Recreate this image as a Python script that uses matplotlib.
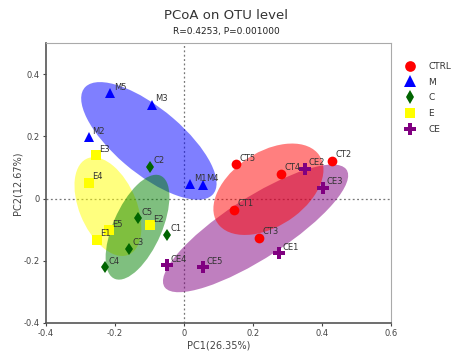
import numpy as np
import matplotlib
matplotlib.use("Agg")
import matplotlib.pyplot as plt
from matplotlib.patches import Ellipse

# Coordenadas PCoA
grupos = ["CTRL", "M", "C", "E", "CE"]
ctrl_id = ["CT1", "CT2", "CT3", "CT4", "CT5"]
ctrl_x = [0.146, 0.427, 0.218, 0.281, 0.150]
ctrl_y = [-0.036, 0.121, -0.126, 0.080, 0.111]
m_id = ["M1", "M2", "M3", "M4", "M5"]
m_x = [0.019, -0.275, -0.092, 0.055, -0.213]
m_y = [0.046, 0.198, 0.301, 0.044, 0.338]
c_id = ["C1", "C2", "C3", "C4", "C5"]
c_x = [-0.050, -0.097, -0.160, -0.229, -0.134]
c_y = [-0.116, 0.102, -0.162, -0.221, -0.063]
e_id = ["E1", "E2", "E3", "E4", "E5"]
e_x = [-0.252, -0.099, -0.255, -0.275, -0.217]
e_y = [-0.133, -0.085, 0.139, 0.051, -0.101]
ce_id = ["CE1", "CE2", "CE3", "CE4", "CE5"]
ce_x = [0.276, 0.351, 0.403, -0.050, 0.056]
ce_y = [-0.175, 0.096, 0.035, -0.214, -0.221]

datos = [(ctrl_id, ctrl_x, ctrl_y), (m_id, m_x, m_y), (c_id, c_x, c_y),
         (e_id, e_x, e_y), (ce_id, ce_x, ce_y)]
marcadores = ["o", "^", "d", "s", "P"]
col_punto = ["#ff0000", "#0000ff", "#006400", "#ffff00", "#800080"]
col_elipse = ["#ff0000", "#0000ff", "#008000", "#ffff00", "#800080"]
orden_elipse = [1, 3, 2, 4, 0]
N_STD = 1.37


def elipse(x, y, color):
    x = np.asarray(x)
    y = np.asarray(y)
    cov = np.cov(x, y)
    vals, vecs = np.linalg.eigh(cov)
    idx = vals.argsort()[::-1]
    vals, vecs = vals[idx], vecs[:, idx]
    ang = np.degrees(np.arctan2(vecs[1, 0], vecs[0, 0]))
    w, h = 2 * N_STD * np.sqrt(vals)
    return Ellipse((x.mean(), y.mean()), w, h, angle=ang, facecolor=color,
                   edgecolor="none", alpha=0.5, zorder=2)


fig = plt.figure(figsize=(4.52, 3.53), dpi=100)
ax = fig.add_axes([0.1007, 0.085, 0.7653, 0.793])

for i in orden_elipse:
    ids, xs, ys = datos[i]
    ax.add_patch(elipse(xs, ys, col_elipse[i]))

ax.axhline(0, color="#777777", ls=(0, (1.5, 2)), lw=0.9, zorder=1)
ax.axvline(0, color="#777777", ls=(0, (1.5, 2)), lw=0.9, zorder=1)

tam = {"o": 7, "^": 7.5, "d": 6.5, "s": 6.5, "P": 8}
for i, (ids, xs, ys) in enumerate(datos):
    m = marcadores[i]
    ax.plot(xs, ys, ls="", marker=m, ms=tam[m], color=col_punto[i],
            markeredgewidth=0, label=grupos[i], zorder=4)
    for t, xx, yy in zip(ids, xs, ys):
        ax.annotate(t, (xx, yy), xytext=(2.5, 2.5), textcoords="offset points",
                    fontsize=6, color="#333333", zorder=5)

ax.set_xlim(-0.4, 0.6)
ax.set_ylim(-0.4, 0.5)
ax.set_xticks([-0.4, -0.2, 0, 0.2, 0.4, 0.6])
ax.set_xticklabels(["-0.4", "-0.2", "0", "0.2", "0.4", "0.6"])
ax.set_yticks([-0.4, -0.2, 0, 0.2, 0.4])
ax.set_yticklabels(["-0.4", "-0.2", "0", "0.2", "0.4"])
ax.tick_params(labelsize=6, colors="#444444", length=2.5, width=0.8, pad=1.5)
for s in ["left", "bottom"]:
    ax.spines[s].set_color("#555555")
    ax.spines[s].set_linewidth(1.2)
for s in ["top", "right"]:
    ax.spines[s].set_color("#aaaaaa")
    ax.spines[s].set_linewidth(0.8)

ax.set_xlabel("PC1(26.35%)", fontsize=7, color="#444444", labelpad=2)
ax.set_ylabel("PC2(12.67%)", fontsize=7, color="#444444", labelpad=1)

fig.text(0.5, 0.945, "PCoA on OTU level", ha="center", fontsize=9.5, color="#333333")
fig.text(0.5, 0.905, "R=0.4253, P=0.001000", ha="center", fontsize=6.5, color="#222222")

ax.legend(loc="upper left", bbox_to_anchor=(0.88, 0.835), bbox_transform=fig.transFigure,
          frameon=False, fontsize=6.5, handletextpad=1.0, labelspacing=0.75,
          borderaxespad=0, markerscale=1.1, labelcolor="#333333")

fig.savefig("out.png", dpi=100)
